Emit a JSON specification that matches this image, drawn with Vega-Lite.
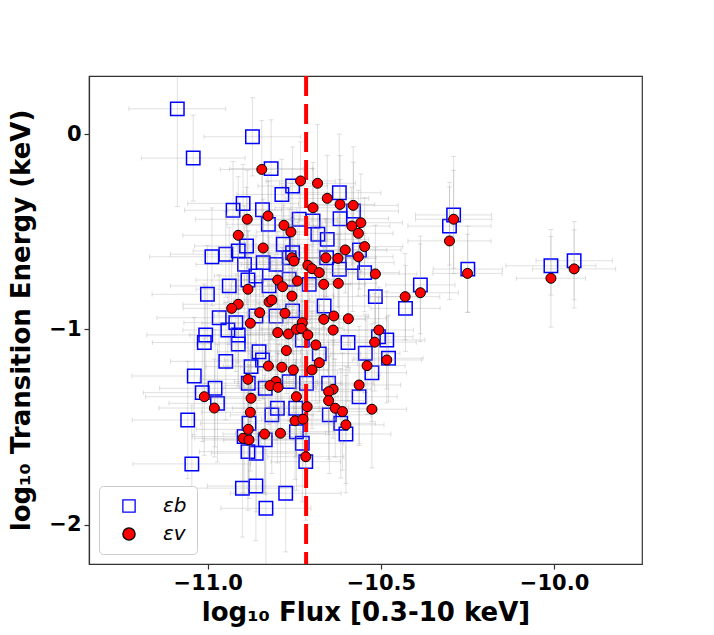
{
  "$schema": "https://vega.github.io/schema/vega-lite/v6.json",
  "width": 553,
  "height": 488,
  "autosize": {"type": "none"},
  "padding": {"left": 89, "top": 76, "right": 72, "bottom": 71},
  "background": "white",
  "config": {
    "view": {"stroke": "#333333", "strokeWidth": 1.2},
    "axis": {
      "grid": false,
      "domainColor": "#333333",
      "domainWidth": 1.2,
      "tickColor": "#333333",
      "tickSize": 5,
      "tickWidth": 1.2,
      "labelFont": "DejaVu Sans",
      "labelFontWeight": "bold",
      "labelFontSize": 21,
      "labelColor": "black",
      "labelPadding": 3,
      "titleFont": "DejaVu Sans",
      "titleFontWeight": "bold",
      "titleFontSize": 26,
      "titleColor": "black"
    },
    "legend": {
      "orient": "bottom-left",
      "offset": 10,
      "padding": 10,
      "fillColor": "white",
      "strokeColor": "#cccccc",
      "cornerRadius": 4,
      "symbolOffset": 10,
      "symbolSize": 150,
      "symbolStrokeWidth": 1.3,
      "labelOffset": 24,
      "labelFont": "DejaVu Sans",
      "labelFontStyle": "italic",
      "labelFontSize": 20,
      "labelColor": "black",
      "rowPadding": 8
    }
  },
  "datasets": {
    "b": [
      {"x": -11.088, "y": 0.129, "xe": 0.14, "ye": 0.5},
      {"x": -10.871, "y": -0.014, "xe": 0.14, "ye": 0.2},
      {"x": -11.042, "y": -0.123, "xe": 0.15, "ye": 0.22},
      {"x": -10.817, "y": -0.177, "xe": 0.12, "ye": 0.25},
      {"x": -10.755, "y": -0.266, "xe": 0.1, "ye": 0.2},
      {"x": -10.786, "y": -0.309, "xe": 0.13, "ye": 0.18},
      {"x": -10.62, "y": -0.3, "xe": 0.12, "ye": 0.3},
      {"x": -10.898, "y": -0.355, "xe": 0.16, "ye": 0.2},
      {"x": -10.927, "y": -0.39, "xe": 0.14, "ye": 0.25},
      {"x": -10.842, "y": -0.387, "xe": 0.1, "ye": 0.2},
      {"x": -10.825, "y": -0.462, "xe": 0.12, "ye": 0.22},
      {"x": -10.736, "y": -0.436, "xe": 0.11, "ye": 0.18},
      {"x": -10.696, "y": -0.445, "xe": 0.13, "ye": 0.3},
      {"x": -10.618, "y": -0.433, "xe": 0.14, "ye": 0.2},
      {"x": -10.682, "y": -0.513, "xe": 0.1, "ye": 0.25},
      {"x": -10.655, "y": -0.539, "xe": 0.12, "ye": 0.2},
      {"x": -10.888, "y": -0.573, "xe": 0.15, "ye": 0.3},
      {"x": -10.912, "y": -0.598, "xe": 0.13, "ye": 0.2},
      {"x": -10.948, "y": -0.615, "xe": 0.16, "ye": 0.22},
      {"x": -10.988, "y": -0.628, "xe": 0.18, "ye": 0.25},
      {"x": -10.782, "y": -0.564, "xe": 0.11, "ye": 0.2},
      {"x": -10.755, "y": -0.607, "xe": 0.12, "ye": 0.18},
      {"x": -10.894, "y": -0.667, "xe": 0.14, "ye": 0.3},
      {"x": -10.84, "y": -0.658, "xe": 0.12, "ye": 0.22},
      {"x": -10.803, "y": -0.667, "xe": 0.1, "ye": 0.2},
      {"x": -10.765, "y": -0.633, "xe": 0.13, "ye": 0.25},
      {"x": -10.657, "y": -0.633, "xe": 0.12, "ye": 0.2},
      {"x": -10.62, "y": -0.692, "xe": 0.11, "ye": 0.3},
      {"x": -10.547, "y": -0.709, "xe": 0.1, "ye": 0.2},
      {"x": -10.884, "y": -0.747, "xe": 0.15, "ye": 0.25},
      {"x": -10.861, "y": -0.726, "xe": 0.12, "ye": 0.2},
      {"x": -10.938, "y": -0.777, "xe": 0.17, "ye": 0.3},
      {"x": -11.001, "y": -0.82, "xe": 0.16, "ye": 0.25},
      {"x": -10.765, "y": -0.743, "xe": 0.13, "ye": 0.22},
      {"x": -10.707, "y": -0.769, "xe": 0.12, "ye": 0.2},
      {"x": -10.823, "y": -0.777, "xe": 0.11, "ye": 0.25},
      {"x": -10.664, "y": -0.88, "xe": 0.13, "ye": 0.3},
      {"x": -10.967, "y": -0.94, "xe": 0.18, "ye": 0.22},
      {"x": -10.919, "y": -0.965, "xe": 0.15, "ye": 0.25},
      {"x": -10.861, "y": -0.931, "xe": 0.12, "ye": 0.2},
      {"x": -10.803, "y": -0.931, "xe": 0.13, "ye": 0.3},
      {"x": -10.755, "y": -0.905, "xe": 0.11, "ye": 0.22},
      {"x": -10.582, "y": -0.658, "xe": 0.12, "ye": 0.25},
      {"x": -11.006, "y": -1.028, "xe": 0.17, "ye": 0.25},
      {"x": -11.01, "y": -1.067, "xe": 0.15, "ye": 0.3},
      {"x": -10.942, "y": -1.003, "xe": 0.13, "ye": 0.2},
      {"x": -10.912, "y": -1.028, "xe": 0.14, "ye": 0.25},
      {"x": -10.912, "y": -1.074, "xe": 0.12, "ye": 0.22},
      {"x": -10.595, "y": -1.067, "xe": 0.13, "ye": 0.3},
      {"x": -10.545, "y": -1.122, "xe": 0.1, "ye": 0.2},
      {"x": -10.948, "y": -1.163, "xe": 0.16, "ye": 0.3},
      {"x": -10.852, "y": -1.114, "xe": 0.12, "ye": 0.25},
      {"x": -10.842, "y": -1.156, "xe": 0.11, "ye": 0.2},
      {"x": -10.875, "y": -1.19, "xe": 0.13, "ye": 0.28},
      {"x": -11.039, "y": -1.238, "xe": 0.18, "ye": 0.3},
      {"x": -10.883, "y": -1.275, "xe": 0.14, "ye": 0.25},
      {"x": -10.765, "y": -1.267, "xe": 0.12, "ye": 0.2},
      {"x": -10.715, "y": -1.275, "xe": 0.1, "ye": 0.3},
      {"x": -10.651, "y": -1.275, "xe": 0.13, "ye": 0.25},
      {"x": -10.979, "y": -1.301, "xe": 0.16, "ye": 0.3},
      {"x": -11.016, "y": -1.323, "xe": 0.17, "ye": 0.25},
      {"x": -10.972, "y": -1.378, "xe": 0.14, "ye": 0.3},
      {"x": -10.834, "y": -1.301, "xe": 0.12, "ye": 0.22},
      {"x": -10.563, "y": -1.344, "xe": 0.11, "ye": 0.25},
      {"x": -11.058, "y": -1.463, "xe": 0.16, "ye": 0.3},
      {"x": -10.799, "y": -1.403, "xe": 0.13, "ye": 0.28},
      {"x": -10.815, "y": -1.437, "xe": 0.12, "ye": 0.3},
      {"x": -10.746, "y": -1.403, "xe": 0.11, "ye": 0.25},
      {"x": -10.649, "y": -1.437, "xe": 0.12, "ye": 0.3},
      {"x": -10.616, "y": -1.48, "xe": 0.1, "ye": 0.28},
      {"x": -10.601, "y": -1.535, "xe": 0.13, "ye": 0.3},
      {"x": -10.881, "y": -1.48, "xe": 0.14, "ye": 0.3},
      {"x": -10.895, "y": -1.548, "xe": 0.15, "ye": 0.3},
      {"x": -10.834, "y": -1.565, "xe": 0.12, "ye": 0.28},
      {"x": -10.744, "y": -1.523, "xe": 0.11, "ye": 0.3},
      {"x": -10.727, "y": -1.582, "xe": 0.12, "ye": 0.3},
      {"x": -10.884, "y": -1.625, "xe": 0.14, "ye": 0.3},
      {"x": -10.86, "y": -1.633, "xe": 0.13, "ye": 0.3},
      {"x": -10.717, "y": -1.676, "xe": 0.1, "ye": 0.3},
      {"x": -11.046, "y": -1.688, "xe": 0.17, "ye": 0.3},
      {"x": -10.9, "y": -1.812, "xe": 0.15, "ye": 0.25},
      {"x": -10.861, "y": -1.801, "xe": 0.14, "ye": 0.28},
      {"x": -10.775, "y": -1.838, "xe": 0.16, "ye": 0.3},
      {"x": -10.832, "y": -1.915, "xe": 0.13, "ye": 0.3},
      {"x": -10.678, "y": -1.125, "xe": 0.12, "ye": 0.25},
      {"x": -10.727, "y": -1.054, "xe": 0.11, "ye": 0.2},
      {"x": -10.29, "y": -0.414, "xe": 0.11, "ye": 0.3},
      {"x": -10.302, "y": -0.471, "xe": 0.12, "ye": 0.2},
      {"x": -10.249, "y": -0.691, "xe": 0.1, "ye": 0.22},
      {"x": -10.386, "y": -0.772, "xe": 0.1, "ye": 0.25},
      {"x": -10.429, "y": -0.892, "xe": 0.1, "ye": 0.22},
      {"x": -10.516, "y": -0.832, "xe": 0.12, "ye": 0.25},
      {"x": -10.579, "y": -0.394, "xe": 0.13, "ye": 0.25},
      {"x": -10.562, "y": -0.593, "xe": 0.12, "ye": 0.2},
      {"x": -10.483, "y": -1.054, "xe": 0.11, "ye": 0.25},
      {"x": -10.507, "y": -1.037, "xe": 0.1, "ye": 0.2},
      {"x": -10.478, "y": -1.147, "xe": 0.1, "ye": 0.22},
      {"x": -10.526, "y": -1.221, "xe": 0.1, "ye": 0.25},
      {"x": -10.009, "y": -0.674, "xe": 0.13, "ye": 0.15},
      {"x": -9.942, "y": -0.648, "xe": 0.11, "ye": 0.2}
    ],
    "v": [
      {"x": -10.844, "y": -0.181, "xe": 0.12, "ye": 0.25},
      {"x": -10.732, "y": -0.24, "xe": 0.1, "ye": 0.2},
      {"x": -10.683, "y": -0.252, "xe": 0.11, "ye": 0.3},
      {"x": -10.655, "y": -0.329, "xe": 0.12, "ye": 0.22},
      {"x": -10.618, "y": -0.36, "xe": 0.1, "ye": 0.25},
      {"x": -10.58, "y": -0.365, "xe": 0.13, "ye": 0.3},
      {"x": -10.696, "y": -0.377, "xe": 0.11, "ye": 0.2},
      {"x": -10.886, "y": -0.436, "xe": 0.15, "ye": 0.25},
      {"x": -10.826, "y": -0.419, "xe": 0.12, "ye": 0.22},
      {"x": -10.78, "y": -0.467, "xe": 0.11, "ye": 0.2},
      {"x": -10.76, "y": -0.501, "xe": 0.1, "ye": 0.25},
      {"x": -10.912, "y": -0.518, "xe": 0.16, "ye": 0.3},
      {"x": -10.558, "y": -0.454, "xe": 0.12, "ye": 0.25},
      {"x": -10.584, "y": -0.471, "xe": 0.11, "ye": 0.2},
      {"x": -10.565, "y": -0.508, "xe": 0.1, "ye": 0.22},
      {"x": -10.84, "y": -0.583, "xe": 0.13, "ye": 0.25},
      {"x": -10.757, "y": -0.633, "xe": 0.12, "ye": 0.2},
      {"x": -10.751, "y": -0.65, "xe": 0.1, "ye": 0.25},
      {"x": -10.711, "y": -0.672, "xe": 0.11, "ye": 0.22},
      {"x": -10.699, "y": -0.689, "xe": 0.12, "ye": 0.3},
      {"x": -10.659, "y": -0.633, "xe": 0.1, "ye": 0.2},
      {"x": -10.624, "y": -0.636, "xe": 0.11, "ye": 0.25},
      {"x": -10.603, "y": -0.593, "xe": 0.12, "ye": 0.22},
      {"x": -10.565, "y": -0.628, "xe": 0.1, "ye": 0.2},
      {"x": -10.547, "y": -0.576, "xe": 0.11, "ye": 0.25},
      {"x": -10.678, "y": -0.709, "xe": 0.12, "ye": 0.22},
      {"x": -10.798, "y": -0.747, "xe": 0.13, "ye": 0.25},
      {"x": -10.784, "y": -0.781, "xe": 0.11, "ye": 0.2},
      {"x": -10.741, "y": -0.752, "xe": 0.1, "ye": 0.3},
      {"x": -10.665, "y": -0.769, "xe": 0.12, "ye": 0.22},
      {"x": -10.623, "y": -0.764, "xe": 0.11, "ye": 0.25},
      {"x": -10.884, "y": -0.794, "xe": 0.15, "ye": 0.3},
      {"x": -10.757, "y": -0.829, "xe": 0.12, "ye": 0.22},
      {"x": -10.823, "y": -0.859, "xe": 0.13, "ye": 0.25},
      {"x": -10.815, "y": -0.849, "xe": 0.11, "ye": 0.2},
      {"x": -10.912, "y": -0.871, "xe": 0.16, "ye": 0.3},
      {"x": -10.931, "y": -0.892, "xe": 0.14, "ye": 0.25},
      {"x": -10.85, "y": -0.914, "xe": 0.12, "ye": 0.22},
      {"x": -10.777, "y": -0.917, "xe": 0.11, "ye": 0.25},
      {"x": -10.665, "y": -0.948, "xe": 0.12, "ye": 0.3},
      {"x": -10.636, "y": -0.931, "xe": 0.1, "ye": 0.22},
      {"x": -10.594, "y": -0.945, "xe": 0.11, "ye": 0.25},
      {"x": -10.877, "y": -0.968, "xe": 0.14, "ye": 0.3},
      {"x": -10.727, "y": -0.965, "xe": 0.12, "ye": 0.22},
      {"x": -10.798, "y": -1.016, "xe": 0.12, "ye": 0.25},
      {"x": -10.767, "y": -1.023, "xe": 0.11, "ye": 0.22},
      {"x": -10.744, "y": -0.999, "xe": 0.1, "ye": 0.3},
      {"x": -10.73, "y": -0.994, "xe": 0.12, "ye": 0.25},
      {"x": -10.711, "y": -1.028, "xe": 0.11, "ye": 0.22},
      {"x": -10.638, "y": -1.003, "xe": 0.12, "ye": 0.25},
      {"x": -10.688, "y": -1.079, "xe": 0.1, "ye": 0.3},
      {"x": -10.773, "y": -1.108, "xe": 0.12, "ye": 0.22},
      {"x": -10.678, "y": -1.17, "xe": 0.11, "ye": 0.25},
      {"x": -10.825, "y": -1.187, "xe": 0.13, "ye": 0.3},
      {"x": -10.786, "y": -1.193, "xe": 0.12, "ye": 0.25},
      {"x": -10.753, "y": -1.207, "xe": 0.1, "ye": 0.22},
      {"x": -10.699, "y": -1.207, "xe": 0.11, "ye": 0.3},
      {"x": -10.884, "y": -1.255, "xe": 0.14, "ye": 0.25},
      {"x": -10.803, "y": -1.266, "xe": 0.12, "ye": 0.3},
      {"x": -10.82, "y": -1.287, "xe": 0.13, "ye": 0.25},
      {"x": -10.797, "y": -1.296, "xe": 0.11, "ye": 0.22},
      {"x": -10.563, "y": -1.284, "xe": 0.12, "ye": 0.3},
      {"x": -10.638, "y": -1.306, "xe": 0.11, "ye": 0.25},
      {"x": -10.651, "y": -1.318, "xe": 0.1, "ye": 0.22},
      {"x": -10.744, "y": -1.344, "xe": 0.12, "ye": 0.3},
      {"x": -10.875, "y": -1.352, "xe": 0.14, "ye": 0.25},
      {"x": -11.01, "y": -1.344, "xe": 0.17, "ye": 0.3},
      {"x": -10.981, "y": -1.402, "xe": 0.16, "ye": 0.25},
      {"x": -10.651, "y": -1.364, "xe": 0.11, "ye": 0.3},
      {"x": -10.632, "y": -1.403, "xe": 0.12, "ye": 0.25},
      {"x": -10.611, "y": -1.42, "xe": 0.1, "ye": 0.3},
      {"x": -10.713, "y": -1.395, "xe": 0.12, "ye": 0.28},
      {"x": -10.877, "y": -1.424, "xe": 0.14, "ye": 0.3},
      {"x": -10.748, "y": -1.467, "xe": 0.11, "ye": 0.3},
      {"x": -10.725, "y": -1.459, "xe": 0.12, "ye": 0.25},
      {"x": -10.601, "y": -1.488, "xe": 0.11, "ye": 0.3},
      {"x": -10.883, "y": -1.511, "xe": 0.15, "ye": 0.3},
      {"x": -10.898, "y": -1.557, "xe": 0.14, "ye": 0.28},
      {"x": -10.881, "y": -1.565, "xe": 0.13, "ye": 0.3},
      {"x": -10.836, "y": -1.535, "xe": 0.12, "ye": 0.3},
      {"x": -10.79, "y": -1.531, "xe": 0.13, "ye": 0.28},
      {"x": -10.717, "y": -1.651, "xe": 0.11, "ye": 0.3},
      {"x": -10.29, "y": -0.436, "xe": 0.11, "ye": 0.25},
      {"x": -10.302, "y": -0.547, "xe": 0.12, "ye": 0.3},
      {"x": -10.25, "y": -0.713, "xe": 0.1, "ye": 0.2},
      {"x": -10.516, "y": -0.716, "xe": 0.12, "ye": 0.25},
      {"x": -10.43, "y": -0.832, "xe": 0.1, "ye": 0.22},
      {"x": -10.386, "y": -0.812, "xe": 0.11, "ye": 0.25},
      {"x": -10.506, "y": -1.003, "xe": 0.1, "ye": 0.22},
      {"x": -10.518, "y": -1.065, "xe": 0.12, "ye": 0.25},
      {"x": -10.483, "y": -1.156, "xe": 0.1, "ye": 0.22},
      {"x": -10.54, "y": -1.185, "xe": 0.11, "ye": 0.25},
      {"x": -10.526, "y": -1.408, "xe": 0.1, "ye": 0.3},
      {"x": -10.009, "y": -0.738, "xe": 0.1, "ye": 0.25},
      {"x": -9.942, "y": -0.69, "xe": 0.12, "ye": 0.2}
    ]
  },
  "layer": [
    {
      "data": {"name": "b"},
      "mark": {"type": "errorbar", "ticks": true, "color": "#999999", "opacity": 0.3, "clip": true},
      "encoding": {
        "x": {"field": "x", "type": "quantitative", "title": "log₁₀ Flux [0.3-10 keV]",
          "scale": {"domain": [-11.343, -9.746], "nice": false, "zero": false},
          "axis": {"values": [-11, -10.5, -10], "format": ".1f", "titlePadding": 6}},
        "xError": {"field": "xe"},
        "y": {"field": "y", "type": "quantitative", "title": "log₁₀ Transition Energy (keV)",
          "scale": {"domain": [-2.2, 0.297], "nice": false, "zero": false},
          "axis": {"values": [0, -1, -2], "format": "d", "titlePadding": 14}}
      }
    },
    {
      "data": {"name": "b"},
      "mark": {"type": "errorbar", "ticks": true, "color": "#999999", "opacity": 0.3, "clip": true},
      "encoding": {
        "x": {"field": "x", "type": "quantitative", "title": "log₁₀ Flux [0.3-10 keV]"},
        "y": {"field": "y", "type": "quantitative", "title": "log₁₀ Transition Energy (keV)"},
        "yError": {"field": "ye"}
      }
    },
    {
      "data": {"name": "b"},
      "mark": {"type": "point", "size": 180, "strokeWidth": 1.5, "opacity": 1, "clip": true},
      "encoding": {
        "x": {"field": "x", "type": "quantitative", "title": "log₁₀ Flux [0.3-10 keV]"},
        "y": {"field": "y", "type": "quantitative", "title": "log₁₀ Transition Energy (keV)"},
        "shape": {"datum": "εb", "scale": {"domain": ["εb", "εv"], "range": ["square", "circle"]}, "legend": {"title": null}},
        "stroke": {"datum": "εb", "scale": {"domain": ["εb", "εv"], "range": ["blue", "black"]}, "legend": {"title": null}},
        "fill": {"datum": "εb", "scale": {"domain": ["εb", "εv"], "range": ["transparent", "red"]}, "legend": {"title": null}}
      }
    },
    {
      "data": {"name": "v"},
      "mark": {"type": "errorbar", "ticks": true, "color": "#999999", "opacity": 0.3, "clip": true},
      "encoding": {
        "x": {"field": "x", "type": "quantitative", "title": "log₁₀ Flux [0.3-10 keV]"},
        "xError": {"field": "xe"},
        "y": {"field": "y", "type": "quantitative", "title": "log₁₀ Transition Energy (keV)"}
      }
    },
    {
      "data": {"name": "v"},
      "mark": {"type": "errorbar", "ticks": true, "color": "#999999", "opacity": 0.3, "clip": true},
      "encoding": {
        "x": {"field": "x", "type": "quantitative", "title": "log₁₀ Flux [0.3-10 keV]"},
        "y": {"field": "y", "type": "quantitative", "title": "log₁₀ Transition Energy (keV)"},
        "yError": {"field": "ye"}
      }
    },
    {
      "data": {"values": [{}]},
      "mark": {"type": "rule", "color": "red", "strokeWidth": 4, "strokeDash": [20, 8]},
      "encoding": {
        "x": {"datum": -10.716, "type": "quantitative"}
      }
    },
    {
      "data": {"name": "v"},
      "mark": {"type": "point", "size": 100, "strokeWidth": 1, "opacity": 1, "clip": true},
      "encoding": {
        "x": {"field": "x", "type": "quantitative", "title": "log₁₀ Flux [0.3-10 keV]"},
        "y": {"field": "y", "type": "quantitative", "title": "log₁₀ Transition Energy (keV)"},
        "shape": {"datum": "εv", "scale": {"domain": ["εb", "εv"], "range": ["square", "circle"]}, "legend": {"title": null}},
        "stroke": {"datum": "εv", "scale": {"domain": ["εb", "εv"], "range": ["blue", "black"]}, "legend": {"title": null}},
        "fill": {"datum": "εv", "scale": {"domain": ["εb", "εv"], "range": ["transparent", "red"]}, "legend": {"title": null}}
      }
    }
  ]
}
